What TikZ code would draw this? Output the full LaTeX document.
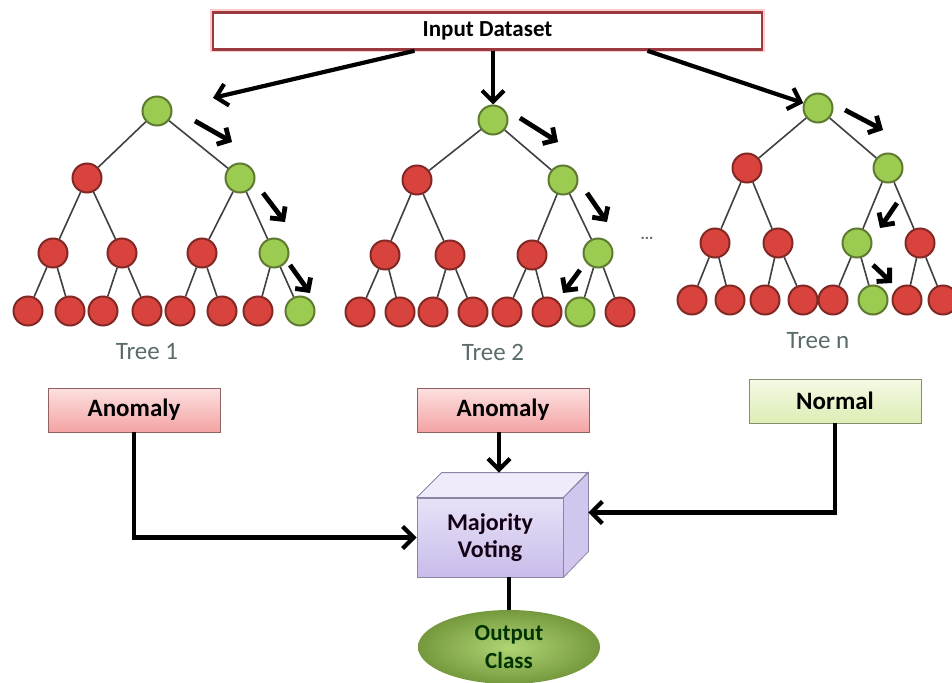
\documentclass[tikz,border=0pt]{standalone}
\usepackage{fontspec}
\setmainfont{Carlito}
\usetikzlibrary{arrows.meta,shapes.geometric}

\definecolor{nred}{HTML}{D9433E}
\definecolor{ngrn}{HTML}{9CCB52}
\definecolor{boxred}{HTML}{9A3A40}
\definecolor{pinktop}{HTML}{FDE0E0}
\definecolor{pinkbot}{HTML}{F3A3A3}
\definecolor{limetop}{HTML}{F4FAE4}
\definecolor{limebot}{HTML}{DDEDB5}
\definecolor{lavtop}{HTML}{E8E2F8}
\definecolor{lavbot}{HTML}{C9BCEA}
\definecolor{treegray}{HTML}{5B6A6A}

\tikzset{
  tnode/.style={circle,minimum size=29pt,inner sep=0pt,line width=2pt},
  edge/.style={draw=black!75,line width=1.6pt},
  hint/.style={line width=4.8pt,-{Straight Barb[length=9pt,width=19pt]}},
  feed/.style={line width=4.2pt,-{Straight Barb[length=11pt,width=22pt]}},
  treelbl/.style={text=treegray,font=\fontsize{25}{27}\selectfont},
  verdict/.style={rectangle,minimum width=172pt,minimum height=44pt,draw=#1!60!black,
    line width=0.8pt,font=\fontsize{25}{27}\selectfont\bfseries},
}

\begin{document}
\begin{tikzpicture}[x=1pt,y=-1pt]
  \useasboundingbox (0,0) rectangle (952,682);

  % input
  \node[rectangle,draw=boxred,line width=2.6pt,preaction={draw=red!20,line width=6pt},
    fill=white,minimum width=549pt,minimum height=37pt,
    font=\fontsize{23}{25}\selectfont\bfseries] (input) at (487.5,31) {Input Dataset};

  % trees
  \foreach \x/\y/\c [count=\i] in {157/111/ngrn, 87/178/nred, 240/178/ngrn,
      53/253/nred, 122/253/nred, 202/253/nred, 274/253/ngrn,
      28/311/nred, 70/311/nred, 103/311/nred, 147/311/nred,
      180/311/nred, 222/311/nred, 258/311/nred, 300/311/ngrn}
    \node[tnode,fill=\c,draw=\c!60!black] (t1-\i) at (\x,\y) {};
  \foreach \x/\y/\c [count=\i] in {493/120/ngrn, 417/180/nred, 563/180/ngrn,
      385/255/nred, 450/255/nred, 532/255/nred, 598/253/ngrn,
      360/312/nred, 400/312/nred, 433/312/nred, 473/312/nred,
      507/312/nred, 547/312/nred, 580/312/ngrn, 620/312/nred}
    \node[tnode,fill=\c,draw=\c!60!black] (t2-\i) at (\x,\y) {};
  \foreach \x/\y/\c [count=\i] in {818/108/ngrn, 747/168/nred, 888/168/ngrn,
      715/243/nred, 778/243/nred, 857/243/ngrn, 920/243/nred,
      692/300/nred, 730/300/nred, 765/300/nred, 803/300/nred,
      833/300/nred, 873/300/ngrn, 907/300/nred, 943/300/nred}
    \node[tnode,fill=\c,draw=\c!60!black] (tn-\i) at (\x,\y) {};

  \foreach \t in {t1,t2,tn}
    \foreach \i in {2,...,15}{
      \pgfmathtruncatemacro\p{\i/2}
      \draw[edge] (\t-\p) -- (\t-\i);
    }

  \node[treelbl] (lbl1) at (147,352) {Tree 1};
  \node[treelbl] (lbl2) at (493,352) {Tree 2};
  \node[treelbl] (lbln) at (818,341) {Tree n};
  \node[text=black!60,font=\fontsize{16}{16}\selectfont\bfseries] (dots) at (647,238) {...};

  % feeding arrows
  \draw[feed,shorten >=42pt] ([xshift=-73pt]input.south) -- (t1-1);
  \draw[feed] (input.south -| t2-1) -- (t2-1);
  \draw[feed] ([xshift=160pt]input.south) -- (tn-1);

  % decision path hints
  \draw[hint] ([shift={(38,10)}]t1-1.center) -- ([shift={(-8,-36)}]t1-3.center);
  \draw[hint] ([shift={(23,15)}]t1-3.center) -- ([shift={(11,-31)}]t1-7.center);
  \draw[hint] ([shift={(16,12)}]t1-7.center) -- ([shift={(10,-18)}]t1-15.center);
  \draw[hint] ([shift={(27,-2)}]t2-1.center) -- ([shift={(-5,-38)}]t2-3.center);
  \draw[hint] ([shift={(24,13)}]t2-3.center) -- ([shift={(9,-31)}]t2-7.center);
  \draw[hint] ([shift={(-18,17)}]t2-7.center) -- ([shift={(-17,-19)}]t2-14.center);
  \draw[hint] ([shift={(27,2)}]tn-1.center) -- ([shift={(-5,-38)}]tn-3.center);
  \draw[hint] ([shift={(9,35)}]tn-3.center) -- ([shift={(23,-15)}]tn-6.center);
  \draw[hint] ([shift={(16,22)}]tn-6.center) -- ([shift={(19,-17)}]tn-13.center);

  % votes
  \node[verdict=pinkbot,top color=pinktop,bottom color=pinkbot] (anom1) at (134,410) {Anomaly};
  \node[verdict=pinkbot,top color=pinktop,bottom color=pinkbot] (anom2) at (503,410) {Anomaly};
  \node[verdict=limebot,top color=limetop,bottom color=limebot] (normal) at (835,401) {Normal};

  % majority voting cube
  \node[rectangle,minimum width=146pt,minimum height=79pt,draw=lavbot!70!black,line width=0.8pt,
    top color=lavtop,bottom color=lavbot,align=center,text=black!85!violet,
    font=\fontsize{24}{27}\selectfont\bfseries] (vote) at (490,537.5) {Majority\\Voting};
  \draw[draw=lavbot!70!black,line width=0.8pt,fill=lavtop!70!white]
    (vote.north west) -- ++(25,-25) -- ++(146,0) -- (vote.north east) -- cycle;
  \draw[draw=lavbot!70!black,line width=0.8pt,fill=lavbot!85!white]
    (vote.north east) -- ++(25,-25) -- ++(0,79) -- (vote.south east) -- cycle;
  \coordinate (vtop) at ([yshift=25pt]vote.north);
  \coordinate (vback) at ([shift={(25,-25)}]vote.east);

  \node[ellipse,minimum width=182pt,minimum height=74pt,inner color=ngrn!80!white,
    outer color=ngrn!75!black,align=center,text=black!80!green,
    font=\fontsize{23}{28}\selectfont\bfseries] (output) at (509,647) {Output\\Class};

  \draw[feed] (anom1.south) |- (vote.west);
  \draw[feed] (anom2.south -| 499,0) -- (vtop -| 499,0);
  \draw[feed] (normal.south) |- (vback);
  \draw[line width=4.2pt] (output.north |- vote.south) -- (output.north);
\end{tikzpicture}
\end{document}
